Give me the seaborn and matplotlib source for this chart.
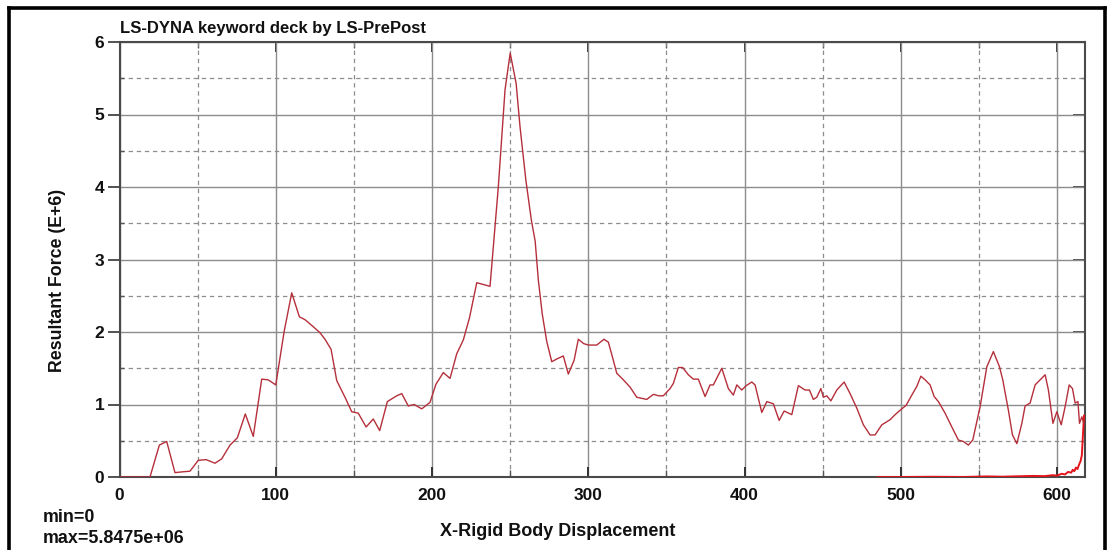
import numpy as np
import pandas as pd
import matplotlib
matplotlib.use("Agg")
import matplotlib.pyplot as plt
from matplotlib.lines import Line2D
from matplotlib.ticker import MultipleLocator
import seaborn as sns

# Resultant force (E+6) against X rigid body displacement
disp = [0, 19.5, 25.5, 30.2, 35.5, 39.7, 45.1, 50.4, 55.4, 61.1, 65.4, 70.7, 75.4,
        80.5, 85.6, 91.0, 95.2, 100.0, 105.3, 110.2, 115.1, 118.7, 123.6, 128.3,
        131.5, 135.4, 139.0, 144.3, 148.6, 152.8, 157.8, 162.4, 166.5, 171.4,
        177.4, 180.6, 184.8, 188.5, 193.4, 198.7, 202.5, 207.2, 211.5, 215.8,
        220.0, 224.0, 228.6, 237.1, 242.4, 246.7, 250.0, 253.8, 256.3, 260.0,
        263.5, 266.0, 268.0, 270.5, 273.4, 276.6, 280.0, 284.0, 287.2, 290.9,
        293.6, 297.0, 300.0, 305.4, 310.0, 312.8, 315.5, 318.2, 322.0, 326.7,
        331.0, 337.4, 341.6, 345.0, 348.0, 352.3, 354.4, 357.6, 360.4, 364.0,
        367.2, 370.4, 374.7, 377.9, 380.0, 385.4, 389.6, 392.8, 395.0, 398.2,
        401.0, 404.6, 406.7, 411.0, 414.2, 418.4, 422.1, 425.3, 430.2, 434.4,
        438.7, 441.5, 444.0, 446.2, 448.8, 450.4, 452.6, 455.2, 459.0, 463.7,
        467.5, 471.8, 476.0, 480.3, 483.5, 487.8, 493.1, 496.3, 499.5, 503.4,
        507.0, 510.2, 512.8, 515.5, 518.7, 521.3, 524.0, 528.3, 532.6, 536.8,
        540.0, 543.2, 546.0, 550.7, 555.0, 559.2, 563.1, 565.2, 568.8, 571.4,
        574.2, 577.4, 579.5, 582.7, 585.9, 589.1, 592.3, 594.4, 597.3, 599.8,
        602.6, 605.1, 607.7, 609.8, 611.5, 613.3, 614.3, 615.8, 616.9]
force = [0, 0, 0.44, 0.49, 0.06, 0.07, 0.08, 0.23, 0.24, 0.19, 0.25, 0.44, 0.54,
         0.87, 0.56, 1.35, 1.34, 1.27, 2.00, 2.54, 2.21, 2.17, 2.08, 1.99,
         1.90, 1.76, 1.33, 1.10, 0.90, 0.88, 0.69, 0.80, 0.64, 1.04,
         1.12, 1.15, 0.98, 1.00, 0.94, 1.03, 1.28, 1.44, 1.36, 1.70,
         1.89, 2.20, 2.68, 2.63, 4.00, 5.34, 5.8475, 5.43, 4.83, 4.10,
         3.55, 3.25, 2.72, 2.25, 1.87, 1.59, 1.63, 1.67, 1.42, 1.61,
         1.90, 1.84, 1.82, 1.82, 1.90, 1.86, 1.65, 1.43, 1.35, 1.24,
         1.10, 1.07, 1.14, 1.12, 1.12, 1.22, 1.29, 1.51, 1.51, 1.41,
         1.35, 1.35, 1.11, 1.27, 1.27, 1.50, 1.22, 1.13, 1.27, 1.20,
         1.26, 1.31, 1.27, 0.89, 1.04, 1.01, 0.78, 0.91, 0.86, 1.26,
         1.20, 1.20, 1.07, 1.10, 1.22, 1.10, 1.12, 1.05, 1.20, 1.31,
         1.15, 0.95, 0.72, 0.58, 0.58, 0.72, 0.79, 0.86, 0.92, 0.99,
         1.13, 1.25, 1.39, 1.34, 1.27, 1.11, 1.04, 0.88, 0.69, 0.51,
         0.49, 0.44, 0.51, 0.97, 1.52, 1.73, 1.52, 1.34, 0.92, 0.58,
         0.46, 0.74, 0.98, 1.02, 1.27, 1.34, 1.41, 1.20, 0.74, 0.90,
         0.72, 0.97, 1.27, 1.22, 1.02, 1.04, 0.74, 0.83, 0.75]

# Second curve rising near the end of travel
disp2 = [485, 500, 520, 540, 555, 565, 575, 585, 592, 597, 600, 603, 605, 607,
         609, 610, 611, 612, 613, 614, 615, 615.8, 616.3, 616.8, 617.2]
force2 = [0.0, 0.0, 0.003, 0.0, 0.008, 0.004, 0.01, 0.015, 0.012, 0.025, 0.02,
          0.045, 0.035, 0.07, 0.06, 0.10, 0.08, 0.13, 0.11, 0.17, 0.22, 0.30,
          0.50, 0.70, 0.85]

x_ticks = [0, 100, 200, 300, 400, 500, 600]
y_ticks = [0, 1, 2, 3, 4, 5, 6]

title = "LS-DYNA keyword deck by LS-PrePost"
x_label = "X-Rigid Body Displacement"
y_label = "Resultant Force (E+6)"
min_text = "min=0"
max_text = "max=5.8475e+06"

sns.set_theme(style="white")
plt.rcParams["font.family"] = ["Liberation Sans", "DejaVu Sans"]
plt.rcParams["font.weight"] = "bold"

W, H = 1109, 550
fig = plt.figure(figsize=(W / 100, H / 100), dpi=100)
fig.patch.set_facecolor("white")

L, R, T, B = 119.5, 1084.5, 42, 477
ax = fig.add_axes([L / W, 1 - B / H, (R - L) / W, (B - T) / H])
ax.set_facecolor("white")

df1 = pd.DataFrame({"disp": disp, "force": force})
df2 = pd.DataFrame({"disp": disp2, "force": force2})

sns.lineplot(data=df2, x="disp", y="force", ax=ax, color="#e4141c", lw=1.4,
             sort=False, estimator=None, zorder=4)
sns.lineplot(data=df1, x="disp", y="force", ax=ax, color="#b52f3b", lw=1.0,
             sort=False, estimator=None, zorder=5)

ax.set_xlim(0, 617.5)
ax.set_ylim(0, 6)
ax.xaxis.set_major_locator(MultipleLocator(100))
ax.xaxis.set_minor_locator(MultipleLocator(50))
ax.yaxis.set_major_locator(MultipleLocator(1))
ax.yaxis.set_minor_locator(MultipleLocator(0.5))
ax.set_xticks(x_ticks)
ax.set_yticks(y_ticks)

grid_col = "#8c8c8c"
ax.grid(True, which="major", color=grid_col, lw=1.0, ls="-")
ax.grid(True, which="minor", color=grid_col, lw=0.9, ls=(0, (3.5, 3)))
ax.set_axisbelow(True)

for s in ax.spines.values():
    s.set_color("#4a4a4a")
    s.set_linewidth(1.5)

ax.tick_params(axis="y", which="major", direction="out", length=9, width=1.2,
               color="#333333", left=True, right=False, pad=2, labelsize=12.5)
ax.tick_params(axis="y", which="minor", direction="in", length=3, width=1,
               color="#555555", left=True, right=False)
ax.tick_params(axis="x", which="major", direction="in", length=7, width=1.4,
               color="#333333", bottom=True, top=False, pad=8, labelsize=12.5)
ax.tick_params(axis="x", which="minor", direction="in", length=5, width=1,
               color="#555555", bottom=True, top=False)

# Inward ticks on the right and top edges
sec_y = ax.secondary_yaxis("right")
sec_y.set_yticks(y_ticks)
sec_y.yaxis.set_minor_locator(MultipleLocator(0.5))
sec_y.tick_params(which="major", direction="in", length=9, width=1.2,
                  color="#333333", labelright=False)
sec_y.tick_params(which="minor", direction="in", length=3, width=1,
                  color="#555555")
sec_y.spines["right"].set_visible(False)
sec_x = ax.secondary_xaxis("top")
sec_x.set_xticks(x_ticks)
sec_x.xaxis.set_minor_locator(MultipleLocator(50))
sec_x.tick_params(which="major", direction="in", length=7, width=1.4,
                  color="#333333", labeltop=False)
sec_x.tick_params(which="minor", direction="in", length=4, width=1,
                  color="#555555")
sec_x.spines["top"].set_visible(False)

for lab in ax.get_xticklabels() + ax.get_yticklabels():
    lab.set_fontweight("bold")
    lab.set_color("#111111")

ax.set_xlabel("")
ax.set_ylabel("")

def fx(px):
    return px / W

def fy(py):
    return 1 - py / H

fig.text(fx(120), fy(29), title, ha="left", va="center", fontsize=12,
         fontweight="bold", color="#111111")
fig.text(fx(557.5), fy(531), x_label, ha="center", va="center", fontsize=13,
         fontweight="bold", color="#111111")
fig.text(fx(57.5), fy(280.5), y_label, ha="center", va="center", fontsize=12.8,
         fontweight="bold", rotation=90, color="#111111")
fig.text(fx(43), fy(518), min_text, ha="left", va="center", fontsize=12.9,
         fontweight="bold", color="#111111")
fig.text(fx(43), fy(538.5), max_text, ha="left", va="center", fontsize=12.9,
         fontweight="bold", color="#111111")

# Outer frame (left, top, right edges)
frame_kw = dict(color="black", lw=2.6, transform=fig.transFigure,
                solid_capstyle="projecting")
fig.add_artist(Line2D([fx(8.5), fx(8.5)], [fy(560), fy(8)], **frame_kw))
fig.add_artist(Line2D([fx(8.5), fx(1104.5)], [fy(8), fy(8)], **frame_kw))
fig.add_artist(Line2D([fx(1104.5), fx(1104.5)], [fy(8), fy(560)], **frame_kw))

fig.savefig("out.png", dpi=100, facecolor="white")
